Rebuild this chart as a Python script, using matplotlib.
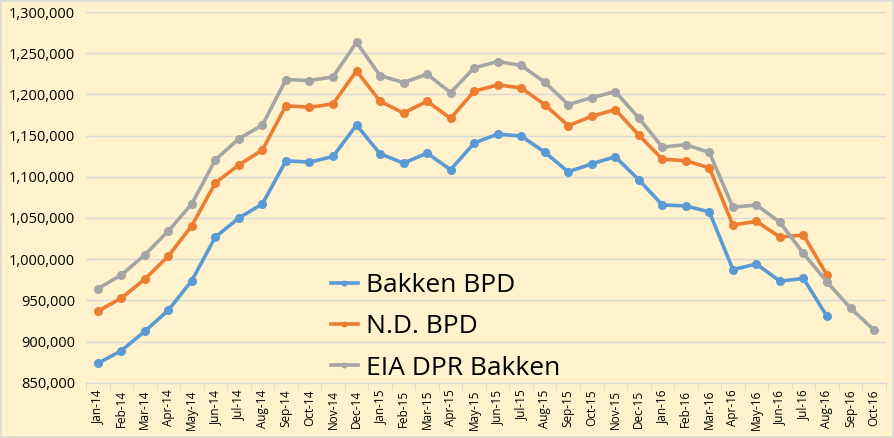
'''
    Bakken production vs EIA DPR chart
'''
import matplotlib
matplotlib.use('Agg')
import matplotlib.pyplot as plt
from matplotlib.patches import Rectangle
from matplotlib.ticker import FuncFormatter, FixedLocator

months = ['Jan-14', 'Feb-14', 'Mar-14', 'Apr-14', 'May-14', 'Jun-14', 'Jul-14',
          'Aug-14', 'Sep-14', 'Oct-14', 'Nov-14', 'Dec-14', 'Jan-15', 'Feb-15',
          'Mar-15', 'Apr-15', 'May-15', 'Jun-15', 'Jul-15', 'Aug-15', 'Sep-15',
          'Oct-15', 'Nov-15', 'Dec-15', 'Jan-16', 'Feb-16', 'Mar-16', 'Apr-16',
          'May-16', 'Jun-16', 'Jul-16', 'Aug-16', 'Sep-16', 'Oct-16']

bakken_bpd = [873400, 888800, 912400, 938000, 974000, 1026900, 1050000, 1067000,
              1119400, 1117700, 1124600, 1162800, 1127900, 1116500, 1128700,
              1108500, 1140900, 1151800, 1149400, 1129900, 1106000, 1115700,
              1124300, 1096300, 1065800, 1064600, 1057300, 987400, 994000,
              973300, 976500, 930600]

nd_bpd = [936700, 952600, 975700, 1003700, 1040600, 1092600, 1114500, 1132400,
          1186300, 1184300, 1188400, 1228600, 1191600, 1177400, 1191600,
          1170900, 1203800, 1211500, 1207900, 1187600, 1162000, 1173400,
          1181500, 1150600, 1121400, 1119400, 1110900, 1041400, 1045900,
          1026800, 1029300, 980600]

eia_dpr = [964300, 980600, 1005300, 1034100, 1067200, 1120600, 1146200, 1162800,
           1218000, 1216800, 1221200, 1263100, 1222900, 1214400, 1224500,
           1202200, 1232200, 1239900, 1235100, 1214800, 1187600, 1196100,
           1203400, 1171300, 1136000, 1138900, 1129500, 1063000, 1065800,
           1044700, 1006900, 972400, 940400, 914000]


def plot_chart():
    '''Draw the three series'''
    bg = '#FFF2CC'
    fig = plt.figure(figsize=(8.95, 4.38), dpi=100, facecolor=bg)
    fig.patches.append(Rectangle((0.001, 0.002), 0.997, 0.995, transform=fig.transFigure,
                                 fill=False, edgecolor='#D9D9D9', lw=1.2))
    ax = fig.add_axes([86 / 895, (438 - 382.7) / 438,
                       (885.8 - 86) / 895, (382.7 - 12) / 438])
    ax.set_facecolor(bg)
    series = [('Bakken BPD', bakken_bpd, '#5B9BD5'),
              ('N.D. BPD', nd_bpd, '#ED7D31'),
              ('EIA DPR Bakken', eia_dpr, '#A5A5A5')]
    for name, vals, col in series:
        ax.plot(range(len(vals)), vals, color=col, lw=2.6, marker='o',
                markersize=5.5, label=name, zorder=3)

    ax.set_xlim(-0.5, len(months) - 0.5)
    ax.set_ylim(850000, 1300000)
    ax.set_yticks(range(850000, 1300001, 50000))
    ax.yaxis.set_major_formatter(FuncFormatter(lambda v, p: f'{int(v):,}'))
    ax.grid(axis='y', color='#D9D9D9', lw=1)
    ax.set_axisbelow(True)

    ax.set_xticks(range(len(months)))
    ax.set_xticklabels(months, rotation=90, fontsize=8.5)
    ax.xaxis.set_minor_locator(FixedLocator([i - 0.5 for i in range(len(months) + 1)]))
    ax.tick_params(axis='x', which='major', length=0, pad=5)
    ax.tick_params(axis='x', which='minor', length=5, color='#D9D9D9')
    ax.tick_params(axis='y', length=0, labelsize=10.5, pad=8)
    for side in ['top', 'right', 'left']:
        ax.spines[side].set_visible(False)
    ax.spines['bottom'].set_color('#D9D9D9')

    leg = ax.legend(loc='upper left', bbox_to_anchor=(0.277, 0.36),
                    frameon=False, fontsize=19, handlelength=1.0,
                    handletextpad=0.3, labelspacing=0.62, markerscale=0.6)
    for line in leg.get_lines():
        line.set_linewidth(2.6)

    fig.savefig('out.png', dpi=100, facecolor=bg)


plt.rcParams['font.family'] = ['Open Sans', 'DejaVu Sans']
plot_chart()
